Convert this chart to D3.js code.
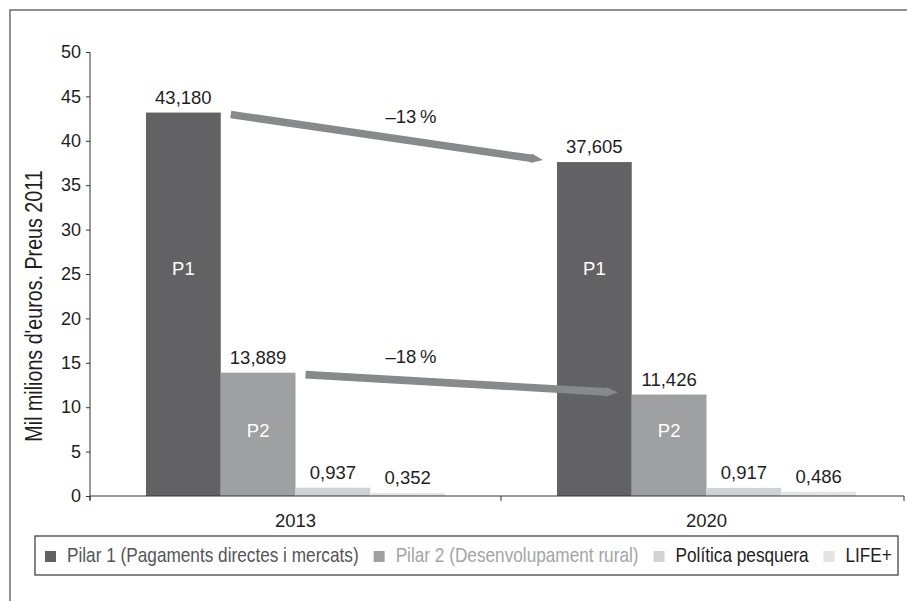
<!DOCTYPE html>
<html>
<head>
<meta charset="utf-8">
<script src="https://cdn.jsdelivr.net/npm/d3@7"></script>
<style>
    body { margin: 0; background: #fff; }
    svg { display: block; }
    .num { font-family: "Liberation Sans", Arial, sans-serif; font-size: 18.5px; fill: #1e1e1e; }
    .narrow { font-family: "Liberation Sans", Arial, sans-serif; }
</style>
</head>
<body>
<svg id="chart" width="907" height="601"></svg>
<script>
const years = ['2013', '2020'];
const seriesNames = [
    'Pilar 1 (Pagaments directes i mercats)',
    'Pilar 2 (Desenvolupament rural)',
    'Política pesquera',
    'LIFE+'
];
const seriesKeys = ['p1', 'p2', 'pesca', 'life'];
const pilar1 = [43.180, 37.605];
const pilar2 = [13.889, 11.426];
const pesquera = [0.937, 0.917];
const life = [0.352, 0.486];
const yTicks = [0, 5, 10, 15, 20, 25, 30, 35, 40, 45, 50];
const barTags = ['P1', 'P2', '', ''];
const changes = [
    { series: 'p1', label: '\u201313\u2009%' },
    { series: 'p2', label: '\u201318\u2009%' }
];

const colors = ['#626264', '#9fa0a2', '#d1d2d4', '#e3e4e6'];
const legendText = ['#555557', '#a3a4a6', '#1e1e1e', '#1e1e1e'];
const NARROW = 0.82; // no condensed face installed, squeeze the regular one

const values = [pilar1, pilar2, pesquera, life];
const rows = years.map((year, i) => ({
    year,
    bars: seriesKeys.map((key, j) => ({ key, idx: j, year, value: values[j][i] }))
}));

const svg = d3.select('#chart');
const fmt = v => d3.format('.3f')(v).replace('.', ',');

// frame
svg.append('rect')
    .attr('x', 10).attr('y', 10)
    .attr('width', 920).attr('height', 620)
    .attr('fill', 'none').attr('stroke', '#555').attr('stroke-width', 1.3);

const y = d3.scaleLinear().domain([0, 50]).range([496, 52]);
const x0 = d3.scaleBand().domain(years).range([90, 912]);
const x1 = d3.scaleBand().domain(seriesKeys).range([56, x0.bandwidth() - 56]);
const AXIS_END = 904;

// y axis
const yAxis = svg.append('g')
    .attr('transform', 'translate(90,0)')
    .call(d3.axisLeft(y).tickValues(yTicks).tickSize(4).tickSizeOuter(0).tickPadding(5));
yAxis.select('.domain').attr('stroke', '#333').attr('d', `M0,${y(50)}V${y(0) + 4}`);
yAxis.selectAll('.tick line').attr('stroke', '#333');
yAxis.selectAll('.tick text')
    .attr('class', 'num')
    .style('font-size', '18px')
    .attr('fill', '#1e1e1e');

svg.append('g')
    .attr('transform', `translate(42,306) rotate(-90) scale(${NARROW},1)`)
    .append('text')
    .attr('class', 'narrow')
    .attr('text-anchor', 'middle')
    .style('font-size', '24px')
    .attr('fill', '#1e1e1e')
    .text("Mil milions d'euros. Preus 2011");

// bars
const groups = svg.append('g')
    .selectAll('g')
    .data(rows)
    .join('g')
    .attr('transform', d => `translate(${x0(d.year)},0)`);

groups.selectAll('rect')
    .data(d => d.bars)
    .join('rect')
    .attr('x', d => x1(d.key))
    .attr('y', d => y(d.value))
    .attr('width', x1.bandwidth())
    .attr('height', d => y(0) - y(d.value))
    .attr('fill', d => colors[d.idx]);

groups.selectAll('text.value')
    .data(d => d.bars)
    .join('text')
    .attr('class', 'value num')
    .attr('text-anchor', 'middle')
    .attr('x', d => x1(d.key) + x1.bandwidth() / 2)
    .attr('y', d => y(d.value) - 9)
    .text(d => fmt(d.value));

// white tags inside the pillars
const tagLevel = { p1: 24.9, p2: 6.6 };
groups.selectAll('text.tag')
    .data(d => d.bars.filter(b => barTags[b.idx]))
    .join('text')
    .attr('class', 'tag num')
    .attr('text-anchor', 'middle')
    .attr('x', d => x1(d.key) + x1.bandwidth() / 2)
    .attr('y', d => y(tagLevel[d.key]))
    .style('fill', '#fff')
    .text(d => barTags[d.idx]);

// x axis
const xAxis = svg.append('g');
xAxis.append('path')
    .attr('d', `M90,${y(0)}H${AXIS_END}`)
    .attr('stroke', '#333').attr('fill', 'none');
xAxis.selectAll('line')
    .data(years.map(d => x0(d)).concat([AXIS_END]))
    .join('line')
    .attr('x1', d => d).attr('x2', d => d)
    .attr('y1', y(0)).attr('y2', y(0) + 5)
    .attr('stroke', '#333');
xAxis.selectAll('text')
    .data(years)
    .join('text')
    .attr('class', 'num')
    .attr('text-anchor', 'middle')
    .attr('x', d => x0(d) + x0.bandwidth() / 2)
    .attr('y', 527)
    .text(d => d);

// change arrows
const arrow = (sx, sy, ex, ey) => {
    const ang = Math.atan2(ey - sy, ex - sx);
    const len = Math.hypot(ex - sx, ey - sy);
    const w = 3.8, hw = 4.8, hl = 12;
    return { ang, pts: [[0, -w], [len - hl, -w], [len - hl, -hw], [len, 0], [len - hl, hw], [len - hl, w], [0, w]] };
};

changes.forEach(c => {
    const j = seriesKeys.indexOf(c.series);
    const v = values[j];
    const sx = x0(years[0]) + x1(c.series) + x1.bandwidth() + 10;
    const sy = y(v[0]) + 2;
    const ex = x0(years[1]) + x1(c.series) - 14;
    const ey = y(v[1]) - 2;
    const a = arrow(sx, sy, ex, ey);
    svg.append('polygon')
        .attr('points', a.pts.map(p => p.join(',')).join(' '))
        .attr('transform', `translate(${sx},${sy}) rotate(${a.ang * 180 / Math.PI})`)
        .attr('fill', '#88898b');

    const lx = (x0(years[0]) + x0(years[1])) / 2 + x0.bandwidth() / 2 - 90;
    const ly = sy + (ey - sy) * (lx - sx) / (ex - sx) - 18;
    svg.append('text')
        .attr('class', 'num')
        .attr('text-anchor', 'middle')
        .attr('x', lx).attr('y', ly)
        .text(c.label);
});

// legend
const legend = svg.append('g');
legend.append('rect')
    .attr('x', 35).attr('y', 536)
    .attr('width', 863).attr('height', 39)
    .attr('fill', '#fff').attr('stroke', '#444').attr('stroke-width', 1.3);

let lx = 45;
seriesNames.forEach((name, i) => {
    legend.append('rect')
        .attr('x', lx).attr('y', 551)
        .attr('width', 11).attr('height', 11)
        .attr('fill', colors[i]);
    const t = legend.append('g')
        .attr('transform', `translate(${lx + 22},562) scale(${NARROW},1)`)
        .append('text')
        .attr('class', 'narrow')
        .style('font-size', '21px')
        .attr('fill', legendText[i])
        .text(name);
    lx += 22 + t.node().getComputedTextLength() * NARROW + 15;
});
</script>
</body>
</html>
